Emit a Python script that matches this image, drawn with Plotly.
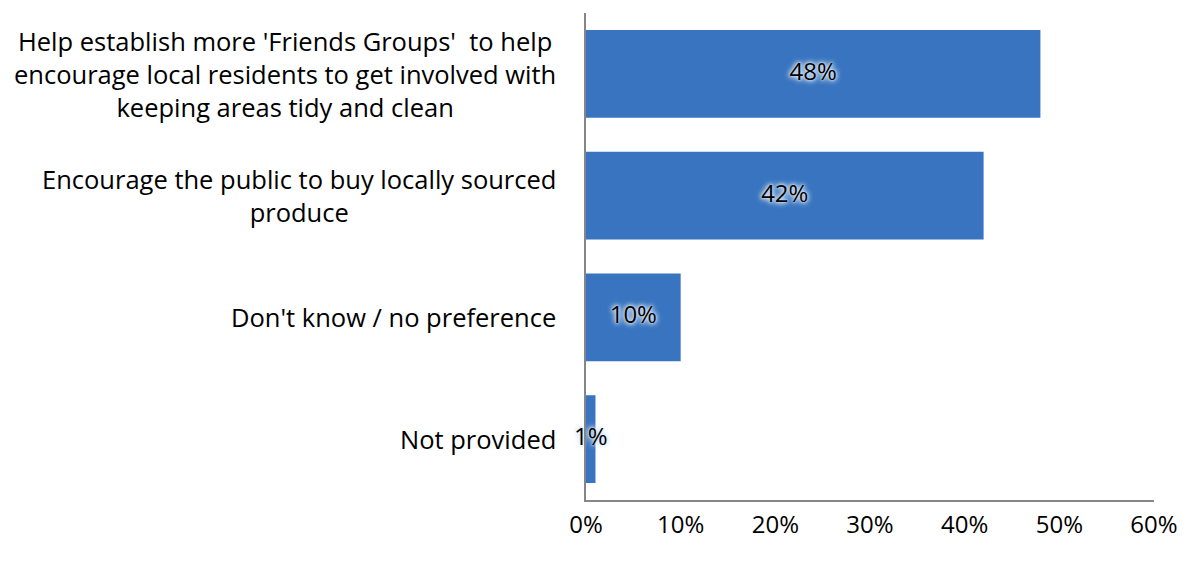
import plotly.graph_objects as go

categories = [
    "Help establish more 'Friends Groups'  to help<br>encourage local residents to get involved with<br>keeping areas tidy and clean",
    "Encourage the public to buy locally sourced<br>produce",
    "Don't know / no preference",
    "Not provided",
]
values = [48, 42, 10, 1]
labels = ["48%", "42%", "10%", "1%"]
tick_vals = [0, 10, 20, 30, 40, 50, 60]
tick_text = ["0%", "10%", "20%", "30%", "40%", "50%", "60%"]

FONT = "'Open Sans', sans-serif"
y_ids = list(range(len(categories)))

fig = go.Figure()
fig.add_trace(go.Bar(
    x=values, y=y_ids, orientation="h",
    marker=dict(color="#3874BF", line=dict(width=0)),
    width=0.72, hoverinfo="skip",
))
fig.add_trace(go.Scatter(
    x=[v / 2 for v in values], y=y_ids, mode="text", text=labels,
    textposition="middle center", cliponaxis=False,
    textfont=dict(family=FONT, size=24, color="black",
                  shadow="0 0 6px #cfe0f4, 0 0 6px #cfe0f4, 0 0 4px #e4eefa, 0 0 2px #f0f6fd"),
    hoverinfo="skip",
))
for i, c in enumerate(categories):
    fig.add_annotation(
        x=-0.05, xref="paper", y=i, yref="y", text=c, showarrow=False,
        xanchor="right", yanchor="middle", align="center",
        font=dict(family=FONT, size=25.5, color="black"),
    )

fig.update_layout(
    width=1175, height=545, showlegend=False,
    plot_bgcolor="white", paper_bgcolor="white",
    margin=dict(l=578, r=24, t=5, b=53),
    font=dict(family=FONT, size=22, color="black"),
    xaxis=dict(range=[0, 60], tickvals=tick_vals, ticktext=tick_text,
               showgrid=False, zeroline=False, showline=True,
               linecolor="#868686", linewidth=2, ticks="",
               ticklabelstandoff=2, tickfont=dict(size=24)),
    yaxis=dict(range=[3.5, -0.5], showticklabels=False, showgrid=False,
               zeroline=False, showline=True, linecolor="#868686",
               linewidth=2, ticks=""),
)
fig.write_html("out.html")
